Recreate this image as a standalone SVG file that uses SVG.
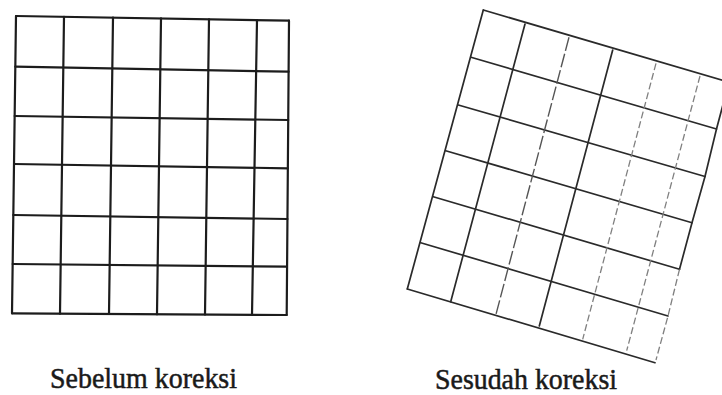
<svg xmlns="http://www.w3.org/2000/svg" width="722" height="395" viewBox="0 0 722 395">
  <style>
    .bg { fill: #ffffff; }
    .lg { stroke: #1c1c1c; stroke-width: 2.2; stroke-linecap: round; fill: none; }
    .rg { stroke: #2a2a2a; stroke-width: 1.7; stroke-linecap: round; fill: none; }
    .rm { stroke: #555555; stroke-width: 1.4; stroke-dasharray: 14 3; fill: none; }
    .rf { stroke: #808080; stroke-width: 1.3; stroke-dasharray: 7 3; fill: none; }
    .label { font-family: "Liberation Serif", "Times New Roman", serif; font-size: 29px; fill: #1a1a1a; stroke: #1a1a1a; stroke-width: 0.5; }
  </style>
  <rect class="bg" x="0" y="0" width="722" height="395"/>

  <g id="grid-before">
    <line class="lg" x1="16" y1="16" x2="289" y2="20.7"/>
    <line class="lg" x1="15.3" y1="66.7" x2="288.6" y2="71.7"/>
    <line class="lg" x1="14.7" y1="116" x2="288.2" y2="120"/>
    <line class="lg" x1="14" y1="164" x2="287.8" y2="168.3"/>
    <line class="lg" x1="13.3" y1="215" x2="287.4" y2="219"/>
    <line class="lg" x1="12.7" y1="264" x2="287" y2="266.7"/>
    <line class="lg" x1="12" y1="313.3" x2="286.7" y2="315"/>
    <line class="lg" x1="16" y1="16" x2="12" y2="313.3"/>
    <line class="lg" x1="64" y1="16.8" x2="60" y2="313.7"/>
    <line class="lg" x1="113" y1="17.6" x2="109" y2="314"/>
    <line class="lg" x1="161" y1="18.4" x2="157" y2="314.3"/>
    <line class="lg" x1="209" y1="19.3" x2="205" y2="314.6"/>
    <line class="lg" x1="257" y1="20.2" x2="252" y2="314.8"/>
    <line class="lg" x1="289" y1="20.7" x2="286.7" y2="315"/>
  </g>

  <g id="grid-after">
    <line class="rg" x1="483.3" y1="10" x2="729" y2="82.2"/>
    <line class="rg" x1="471" y1="57.3" x2="716.5" y2="129"/>
    <line class="rg" x1="458.3" y1="105" x2="705" y2="176.5"/>
    <line class="rg" x1="445.7" y1="150.7" x2="692" y2="222.7"/>
    <line class="rg" x1="433.3" y1="196.7" x2="679.5" y2="269.3"/>
    <line class="rg" x1="420.7" y1="242.7" x2="668" y2="316"/>
    <line class="rg" x1="407.3" y1="289" x2="655" y2="362.7"/>
    <line class="rg" x1="483.3" y1="10" x2="407.3" y2="289"/>
    <line class="rg" x1="525" y1="24" x2="450.7" y2="301.7"/>
    <line class="rm" x1="569" y1="37.3" x2="496" y2="314.3"/>
    <line class="rg" x1="612.7" y1="50" x2="539.3" y2="326"/>
    <line class="rf" x1="656" y1="63.3" x2="582.7" y2="339.3"/>
    <line class="rf" x1="700" y1="76" x2="626.7" y2="350.7"/>
    <polyline class="rg" points="729,82.2 716.5,129 705,176.5 692,222.7 679.5,269.3"/>
    <polyline class="rf" points="679.5,269.3 668,316 656,360"/>
  </g>

  <g id="labels">
    <text class="label" x="50" y="388" textLength="187" lengthAdjust="spacingAndGlyphs">Sebelum koreksi</text>
    <text class="label" x="435" y="389" textLength="182" lengthAdjust="spacingAndGlyphs">Sesudah koreksi</text>
  </g>
</svg>
